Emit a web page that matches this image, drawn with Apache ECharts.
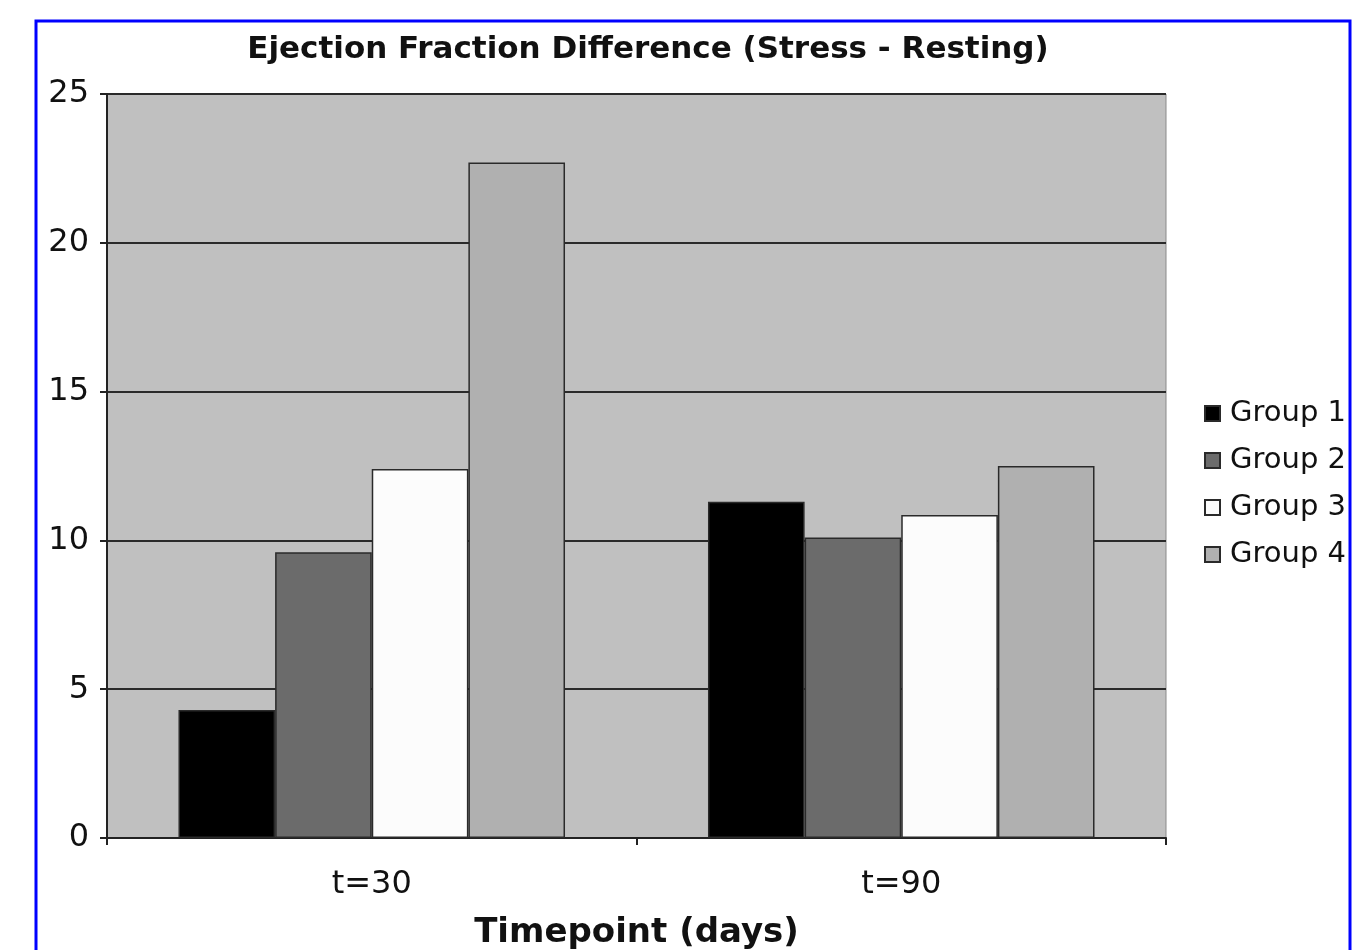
<!DOCTYPE html>
<html>
<head>
<meta charset="utf-8">
<style>
html,body{margin:0;padding:0;background:#fff;}
#c{width:1353px;height:950px;}
</style>
<script src="https://cdn.jsdelivr.net/npm/echarts@6/dist/echarts.min.js"></script>
</head>
<body>
<div id="c"></div>
<script>
const categories = ['t=30', 't=90'];
const groupNames = ['Group 1', 'Group 2', 'Group 3', 'Group 4'];
const group1 = [4.3, 11.3];
const group2 = [9.6, 10.1];
const group3 = [12.4, 10.85];
const group4 = [22.7, 12.5];
const yTicks = [0, 5, 10, 15, 20, 25];
const colors = ['#000000', '#6b6b6b', '#fcfcfc', '#b0b0b0'];

const seriesData = [group1, group2, group3, group4];
const font = 'DejaVu Sans, Verdana, sans-serif';

const chart = echarts.init(document.getElementById('c'), null, {renderer: 'canvas'});
chart.setOption({
  backgroundColor: '#ffffff',
  animation: false,
  title: {
    text: 'Ejection Fraction Difference (Stress - Resting)',
    left: 643, top: 29, textAlign: 'center',
    textStyle: {fontFamily: font, fontSize: 31, fontWeight: 'bold', color: '#111'}
  },
  legend: {
    orient: 'vertical', left: 1199, top: 394,
    itemWidth: 15, itemHeight: 15, itemGap: 18,
    icon: 'rect',
    data: groupNames,
    textStyle: {fontFamily: font, fontSize: 29, color: '#111', padding: [0,0,0,5]}
  },
  grid: {
    left: 107, right: 187, top: 94, bottom: 112,
    outerBoundsMode: 'none', containLabel: false,
    show: true, backgroundColor: '#c0c0c0', borderColor: '#8a8a8a', borderWidth: 1
  },
  xAxis: {
    type: 'category', data: categories,
    axisLine: {lineStyle: {color: '#222', width: 2}},
    axisTick: {show: true, length: 7, lineStyle: {color: '#222', width: 2}},
    axisLabel: {fontFamily: font, fontSize: 32, color: '#111', margin: 31},
    name: 'Timepoint (days)', nameLocation: 'middle', nameGap: 78,
    nameTextStyle: {fontFamily: font, fontSize: 34, fontWeight: 'bold', color: '#111'}
  },
  yAxis: {
    type: 'value', min: yTicks[0], max: yTicks[yTicks.length-1], interval: yTicks[1]-yTicks[0],
    axisLine: {show: true, lineStyle: {color: '#222', width: 2}},
    axisTick: {show: true, length: 7, lineStyle: {color: '#222', width: 2}},
    axisLabel: {fontFamily: font, fontSize: 32, color: '#111', margin: 18},
    splitLine: {lineStyle: {color: '#2a2a2a', width: 2}}
  },
  series: groupNames.map((n, i) => ({
    name: n, type: 'bar', data: seriesData[i],
    barGap: '0%', barCategoryGap: '27%',
    itemStyle: {color: colors[i], borderColor: '#2a2a2a', borderWidth: 1.5}
  })),
  graphic: [{
    type: 'rect', z: 100, silent: true,
    shape: {x: 36, y: 21, width: 1314, height: 940},
    style: {fill: null, stroke: '#0000ff', lineWidth: 3}
  }]
});
</script>
</body>
</html>
